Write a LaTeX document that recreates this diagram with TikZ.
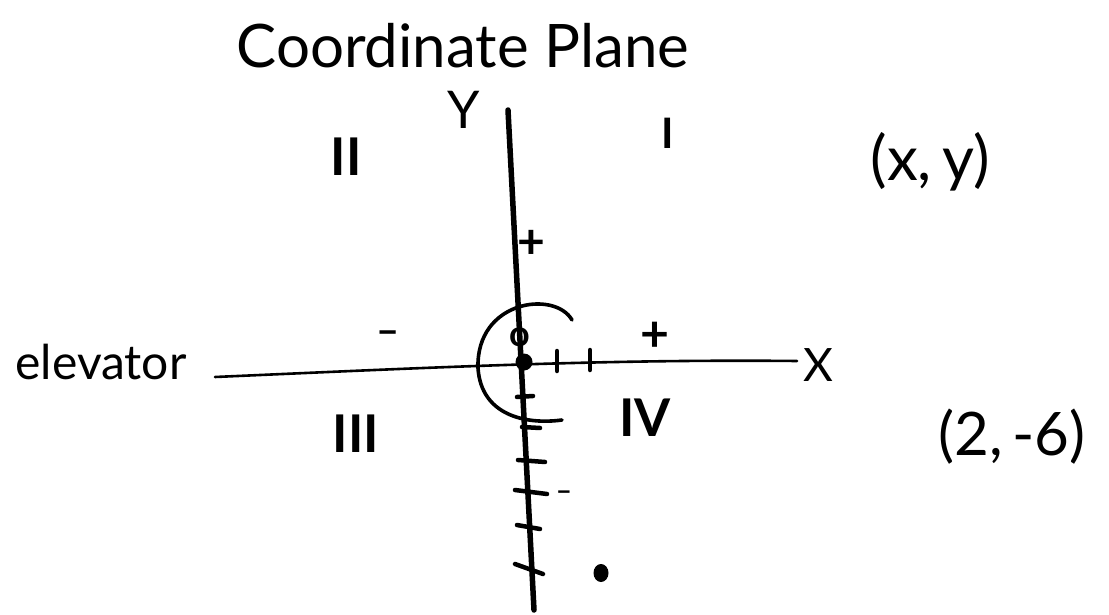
\documentclass[tikz,border=0pt]{standalone}
\usepackage{fontspec}
\setmainfont{Lato}
\begin{document}
\begin{tikzpicture}[x=1pt,y=-1pt,
  lbl/.style={inner sep=0pt, text=black},
  numeral/.style={lbl, font=\fontsize{52}{56}\selectfont\bfseries},
  axisy/.style={line width=5.5pt, line cap=round},
  axisx/.style={line width=2.6pt, line cap=round},
  tickmark/.style={line width=4.5pt, line cap=round},
  pen/.style={line width=3.6pt, line cap=round}]
\useasboundingbox (0,0) rectangle (1109,615);

% texts
\node[lbl, font=\fontsize{60}{64}\selectfont] (title) at (463,46) {Coordinate Plane};
\node[lbl, font=\fontsize{52}{56}\selectfont] (ylab) at (464,110) {Y};
\node[numeral, font=\fontsize{42}{46}\selectfont\bfseries] (q1) at (668,133) {I};
\node[numeral] (q2) at (346,157) {II};
\node[numeral] (q3) at (356,434) {III};
\node[numeral] (q4) at (645,418) {IV};
\node[lbl, font=\fontsize{62}{66}\selectfont] (xy) at (930,162) {(x,\,y)};
\node[lbl, font=\fontsize{60}{64}\selectfont] (pt) at (1012,437) {(2,\,-6)};
\node[lbl, font=\fontsize{48}{52}\selectfont] (elev) at (101,362) {elevator};
\node[lbl, font=\fontsize{46}{50}\selectfont] (xlab) at (818,365) {X};
\node[lbl, font=\fontsize{50}{54}\selectfont\bfseries] (plusx) at (655,337) {+};
\node[lbl, font=\fontsize{40}{44}\selectfont\bfseries] (minusx) at (388,338) {\textendash};
\node[lbl, font=\fontsize{48}{52}\selectfont\bfseries] (plusy) at (531,244) {+};
\node[lbl, font=\fontsize{36}{40}\selectfont\bfseries] (zero) at (520,337) {o};
\node[lbl, font=\fontsize{28}{32}\selectfont\bfseries] (minusy) at (564,496) {\textendash};

% axes
\coordinate (yt) at (508,110);
\coordinate (yb) at (534,610);
\coordinate (xl) at (215,377);
\coordinate (xm) at (420,368);
\coordinate (xr) at (797,361);
\draw[axisy] (yt) -- (yb);
\draw[axisx] (xl) .. controls (xm) and (600,359) .. (xr);

% origin and point
\coordinate (o) at (524,362);
\fill (o) circle[radius=8.5];
\coordinate (p) at (601,573);
\fill (p) ellipse[x radius=7.5, y radius=9];

% half circle
\draw[pen] (572,320) .. controls (555,290) and (476,300) .. (478,368)
  .. controls (481,415) and (525,425) .. (562,420);

% ticks on x axis
\draw[tickmark] (557,351) -- (557,371);
\draw[tickmark] (590,350) -- (590,370);

% ticks on y axis
\draw[tickmark] (517,397) -- (533,396);
\draw[tickmark] (522,427) -- (540,428);
\draw[tickmark] (518,460) -- (545,462);
\draw[tickmark] (515,490) -- (547,494);
\draw[tickmark] (517,525) -- (540,529);
\draw[tickmark] (515,564) -- (543,574);
\end{tikzpicture}
\end{document}
